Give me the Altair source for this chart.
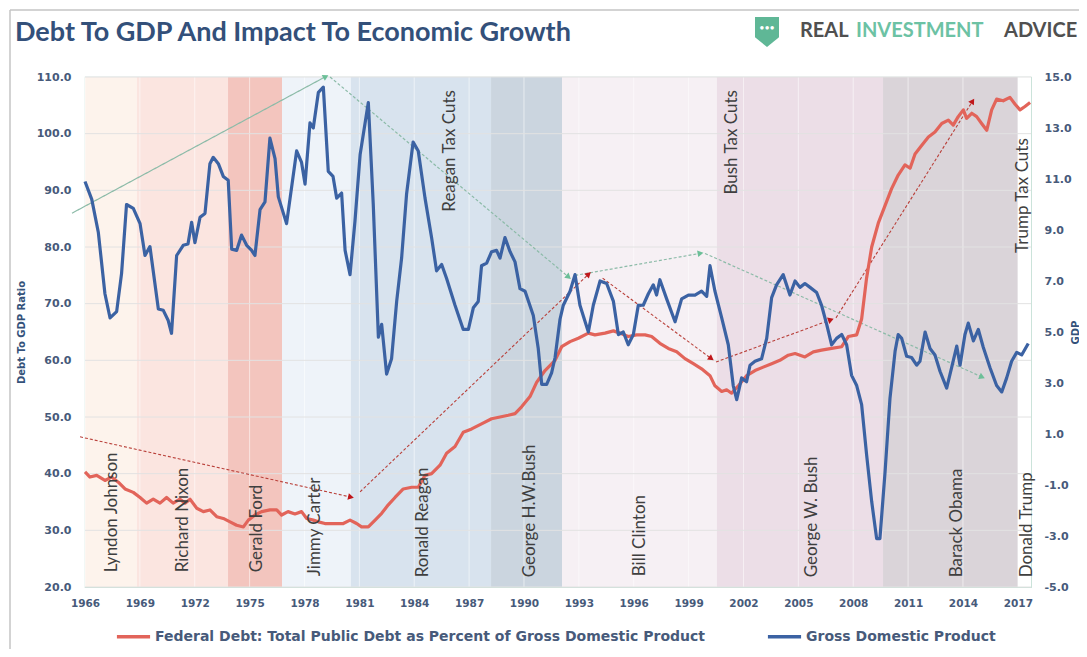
import math
import altair as alt
import pandas as pd

# ---------------- data ----------------
gdp_year = [1966.00, 1966.37, 1966.73, 1967.09, 1967.37, 1967.73, 1968.00, 1968.27, 1968.64, 1969.01,
            1969.28, 1969.55, 1970.01, 1970.28, 1970.55, 1970.73, 1971.01, 1971.37, 1971.63, 1971.83,
            1972.01, 1972.29, 1972.56, 1972.83, 1973.01, 1973.29, 1973.56, 1973.83, 1974.02, 1974.29,
            1974.56, 1974.84, 1975.11, 1975.29, 1975.57, 1975.84, 1976.11, 1976.39, 1976.57, 1977.02,
            1977.57, 1977.84, 1978.03, 1978.30, 1978.48, 1978.76, 1979.03, 1979.30, 1979.56, 1979.76,
            1980.03, 1980.22, 1980.49, 1980.76, 1981.04, 1981.49, 1981.76, 1982.04, 1982.22, 1982.49,
            1982.76, 1983.04, 1983.31, 1983.58, 1983.94, 1984.22, 1984.59, 1984.95, 1985.22, 1985.50,
            1985.77, 1986.23, 1986.68, 1986.96, 1987.23, 1987.50, 1987.68, 1987.96, 1988.23, 1988.50,
            1988.69, 1988.96, 1989.24, 1989.51, 1989.78, 1990.06, 1990.51, 1990.78, 1990.97, 1991.24,
            1991.51, 1991.70, 1991.97, 1992.15, 1992.52, 1992.79, 1993.06, 1993.52, 1993.79, 1994.16,
            1994.52, 1994.89, 1995.16, 1995.43, 1995.70, 1995.98, 1996.25, 1996.52, 1996.80, 1997.07,
            1997.25, 1997.43, 1997.80, 1998.26, 1998.62, 1998.99, 1999.35, 1999.71, 1999.99, 2000.17,
            2000.44, 2000.81, 2001.17, 2001.44, 2001.63, 2001.90, 2002.17, 2002.36, 2002.63, 2002.99,
            2003.27, 2003.54, 2003.81, 2004.17, 2004.54, 2004.82, 2005.09, 2005.36, 2005.64, 2006.00,
            2006.27, 2006.55, 2006.82, 2007.09, 2007.37, 2007.64, 2007.91, 2008.19, 2008.46, 2008.73,
            2009.01, 2009.28, 2009.46, 2009.74, 2010.01, 2010.29, 2010.46, 2010.65, 2010.92, 2011.19,
            2011.47, 2011.65, 2011.93, 2012.20, 2012.47, 2012.75, 2013.11, 2013.38, 2013.66, 2013.84,
            2014.11, 2014.29, 2014.57, 2014.84, 2015.11, 2015.48, 2015.84, 2016.12, 2016.39, 2016.66,
            2016.94, 2017.21, 2017.57]
gdp_value = [10.9, 10.2, 8.9, 6.5, 5.55, 5.8, 7.3, 10.0, 9.85, 9.25,
             8.0, 8.35, 5.9, 5.85, 5.45, 4.95, 8.0, 8.4, 8.45, 9.3,
             8.5, 9.5, 9.65, 11.6, 11.85, 11.6, 11.1, 10.95, 8.25, 8.2,
             8.8, 8.4, 8.2, 8.0, 9.8, 10.1, 12.6, 11.8, 10.3, 9.25,
             12.1, 11.65, 10.8, 13.2, 13.0, 14.4, 14.6, 11.3, 11.1, 10.25,
             10.45, 8.2, 7.25, 9.35, 11.95, 14.0, 10.0, 4.8, 5.3, 3.35,
             3.95, 6.2, 7.9, 10.4, 12.45, 12.1, 10.25, 8.7, 7.4, 7.65,
             7.1, 6.05, 5.1, 5.1, 5.95, 6.2, 7.6, 7.7, 8.15, 8.2,
             7.9, 8.7, 8.15, 7.75, 6.7, 6.6, 5.65, 4.35, 2.95, 2.95,
             3.4, 4.0, 5.5, 6.05, 6.6, 7.25, 6.05, 5.0, 6.05, 7.0,
             6.9, 6.2, 4.9, 5.0, 4.5, 4.9, 6.05, 6.05, 6.5, 6.85,
             6.45, 7.05, 6.3, 5.4, 6.3, 6.45, 6.45, 6.6, 6.4, 7.6,
             6.6, 5.55, 4.5, 2.9, 2.35, 3.2, 3.05, 3.7, 3.85, 3.95,
             4.75, 6.35, 6.85, 7.25, 6.45, 7.0, 6.75, 6.9, 6.75, 6.55,
             6.05, 5.3, 4.5, 4.75, 4.9, 4.5, 3.3, 2.9, 2.15, 0.2,
             -1.65, -3.1, -3.1, -0.5, 2.4, 4.25, 4.9, 4.75, 4.05, 4.0,
             3.7, 3.85, 5.0, 4.35, 4.1, 3.45, 2.8, 3.6, 4.45, 3.7,
             4.9, 5.35, 4.65, 5.1, 4.4, 3.6, 2.9, 2.65, 3.2, 3.85,
             4.2, 4.1, 4.55]

debt_year = [1966.00, 1966.27, 1966.64, 1967.09, 1967.45, 1967.82, 1968.19, 1968.64, 1969.01, 1969.37,
             1969.73, 1970.10, 1970.46, 1970.82, 1971.19, 1971.47, 1971.74, 1972.11, 1972.47, 1972.83,
             1973.20, 1973.56, 1973.93, 1974.29, 1974.66, 1974.93, 1975.29, 1975.66, 1976.11, 1976.48,
             1976.75, 1977.10, 1977.48, 1977.84, 1978.12, 1978.48, 1978.76, 1979.12, 1979.67, 1980.12,
             1980.49, 1980.85, 1981.12, 1981.49, 1981.86, 1982.22, 1982.58, 1982.95, 1983.40, 1983.86,
             1984.22, 1984.59, 1984.95, 1985.41, 1985.77, 1986.23, 1986.68, 1987.14, 1987.68, 1988.23,
             1988.69, 1989.14, 1989.51, 1989.87, 1990.33, 1990.69, 1991.15, 1991.70, 1992.06, 1992.52,
             1992.97, 1993.52, 1993.88, 1994.43, 1994.89, 1995.25, 1995.70, 1996.16, 1996.62, 1996.98,
             1997.43, 1997.89, 1998.35, 1998.80, 1999.26, 1999.71, 2000.17, 2000.44, 2000.81, 2001.08,
             2001.35, 2001.72, 2002.17, 2002.63, 2003.08, 2003.54, 2003.99, 2004.45, 2004.82, 2005.36,
             2005.82, 2006.27, 2006.82, 2007.37, 2007.73, 2008.19, 2008.46, 2008.73, 2009.01, 2009.37,
             2009.74, 2010.10, 2010.46, 2010.83, 2011.11, 2011.38, 2011.74, 2012.11, 2012.47, 2012.84,
             2013.20, 2013.47, 2013.74, 2014.02, 2014.20, 2014.48, 2014.75, 2015.02, 2015.30, 2015.57,
             2015.84, 2016.20, 2016.57, 2016.85, 2017.12, 2017.39, 2017.67]
debt_value = [40.3, 39.4, 39.7, 38.8, 39.4, 38.5, 37.3, 36.7, 35.8, 34.8,
              35.5, 34.8, 35.8, 34.8, 35.5, 34.8, 35.5, 33.9, 33.3, 33.6,
              32.4, 32.1, 31.5, 30.9, 30.6, 31.8, 32.7, 33.3, 33.6, 33.6,
              32.7, 33.3, 32.9, 33.3, 32.1, 31.8, 31.5, 31.2, 31.2, 31.2,
              31.8, 31.2, 30.6, 30.6, 31.8, 33.0, 34.5, 35.8, 37.3, 37.6,
              37.6, 39.7, 40.0, 41.5, 43.6, 44.8, 47.3, 47.9, 48.8, 49.7,
              50.0, 50.3, 50.6, 51.8, 53.6, 56.1, 58.2, 60.0, 62.4, 63.3,
              63.9, 64.8, 64.5, 64.8, 65.2, 64.8, 64.2, 64.5, 64.5, 64.2,
              63.0, 62.1, 61.5, 60.3, 59.4, 58.5, 57.3, 55.5, 54.5, 54.8,
              54.2, 55.5, 57.3, 58.2, 58.8, 59.4, 60.0, 60.9, 61.2, 60.6,
              61.5, 61.8, 62.1, 62.4, 64.2, 64.5, 67.3, 74.5, 80.0, 84.2,
              87.3, 90.3, 92.7, 94.5, 93.9, 96.4, 97.9, 99.4, 100.3, 101.8,
              102.4, 101.5, 103.0, 104.2, 102.7, 103.6, 103.0, 101.8, 100.6, 104.2,
              106.1, 105.8, 106.4, 105.2, 104.2, 104.8, 105.5]

term_names = ["Lyndon Johnson", "Richard Nixon", "Gerald Ford", "Jimmy Carter", "Ronald Reagan",
              "George H.W.Bush", "Bill Clinton", "George W. Bush", "Barack Obama", "Donald Trump"]
term_start = [1966.0, 1968.84, 1973.82, 1976.77, 1980.54, 1988.2, 1992.08, 2000.55, 2009.63, 2017.01]
term_end = [1968.84, 1973.82, 1976.77, 1980.54, 1988.2, 1992.08, 2000.55, 2009.63, 2017.01, 2017.72]
term_color = ["#fdf3ec", "#fbe5e0", "#f3c5be", "#eef3f9", "#d8e3ee",
              "#cbd5df", "#f6f0f4", "#ecdee7", "#dad4d9", "#ffffff"]
name_x = [1967.48, 1971.36, 1975.4, 1978.58, 1984.5, 1990.33, 1996.34, 2005.75, 2013.68, 2017.5]
name_y = [22.6, 22.6, 22.6, 21.9, 21.7, 21.7, 21.9, 21.7, 21.7, 21.7]

cut_names = ["Reagan Tax Cuts", "Bush Tax Cuts", "Trump Tax Cuts"]
cut_x = [1985.96, 2001.4, 2017.3]
cut_y = [107.7, 107.7, 99.2]

# red (debt) trend arrows, left-axis units
red_x0 = [1965.73, 1981.04, 1994.3, 2000.5, 2007.06]
red_y0 = [46.5, 36.8, 74.5, 59.7, 67.5]
red_x1 = [1980.49, 1993.5, 2000.2, 2006.73, 2014.5]
red_y1 = [35.9, 75.1, 60.4, 67.1, 105.6]
# green (GDP) trend arrows, right-axis units
grn_x0 = [1965.29, 1979.4, 1992.8, 1999.9]
grn_y0 = [9.66, 15.0, 7.22, 8.08]
grn_x1 = [1979.12, 1992.4, 1999.6, 2015.0]
grn_y1 = [15.0, 7.18, 8.08, 3.25]
grn_dash = ["solid", "dash", "dash", "dash"]

x_ticks = list(range(1966, 2018, 3))
left_ticks = [20, 30, 40, 50, 60, 70, 80, 90, 100, 110]
right_ticks = [-5, -3, -1, 1, 3, 5, 7, 9, 11, 13, 15]

DEBT_NAME = "Federal Debt: Total Public Debt as Percent of Gross Domestic Product"
GDP_NAME = "Gross Domestic Product"

# ---------------- layout / style ----------------
W, H = 946, 510
XMIN, XMAX = 1966.0, 2017.72
LMIN, LMAX = 20, 110
RMIN, RMAX = -5, 15
FONT = "Lato"
AXFONT = "DejaVu Sans"
RED = "#e2645a"
BLUE = "#3b62a3"
LABEL_C = "#475a7a"

xscale = alt.Scale(domain=[XMIN, XMAX], nice=False, zero=False)
lscale = alt.Scale(domain=[LMIN, LMAX], nice=False, zero=False)
rscale = alt.Scale(domain=[RMIN, RMAX], nice=False, zero=False)
xaxis = alt.Axis(values=x_ticks, format="d", title=None, grid=False, ticks=False, domain=False,
                 labelFont=AXFONT, labelFontSize=10.5, labelFontWeight="bold", labelColor=LABEL_C,
                 labelPadding=11, labelFlush=False)


def X(field):
    return alt.X(field, type="quantitative", scale=xscale, axis=xaxis)


def angle(x0, y0, x1, y1, pyu):
    dx = (x1 - x0) * W / (XMAX - XMIN)
    dy = -(y1 - y0) * pyu
    return (math.degrees(math.atan2(dx, -dy)) + 360) % 360


terms = pd.DataFrame({"name": term_names, "start": term_start, "end": term_end, "color": term_color})
gdp = pd.DataFrame({"year": gdp_year, "value": gdp_value, "series": GDP_NAME})
debt = pd.DataFrame({"year": debt_year, "value": debt_value, "series": DEBT_NAME})
names = pd.DataFrame({"name": term_names, "x": name_x, "y": name_y})
cuts = pd.DataFrame({"name": cut_names, "x": cut_x, "y": cut_y})
red_arr = pd.DataFrame({"x0": red_x0, "y0": red_y0, "x1": red_x1, "y1": red_y1})
red_arr["ang"] = [angle(a, b, c, d, H / (LMAX - LMIN)) for a, b, c, d in zip(red_x0, red_y0, red_x1, red_y1)]
grn_arr = pd.DataFrame({"x0": grn_x0, "y0": grn_y0, "x1": grn_x1, "y1": grn_y1, "dash": grn_dash})
grn_arr["ang"] = [angle(a, b, c, d, H / (RMAX - RMIN)) for a, b, c, d in zip(grn_x0, grn_y0, grn_x1, grn_y1)]
xgrid = pd.DataFrame({"year": x_ticks})
ygrid = pd.DataFrame({"v": left_ticks})

color_scale = alt.Scale(domain=[DEBT_NAME, GDP_NAME], range=[RED, BLUE])
legend = alt.Legend(title=None, orient="none", legendX=30, legendY=541, direction="horizontal",
                    symbolType="stroke", symbolSize=1100, symbolStrokeWidth=3.5,
                    labelFont=AXFONT, labelFontSize=14, labelFontWeight="bold", labelColor=LABEL_C,
                    labelLimit=0, columnPadding=54, labelOffset=3)

shade = alt.Chart(terms).mark_rect().encode(
    x=X("start"), x2="end", color=alt.Color("color:N", scale=None))

vgrid = alt.Chart(xgrid).mark_rule(color="#ffffff", strokeWidth=1, opacity=0.55).encode(x=X("year"))
hgrid = alt.Chart(ygrid).mark_rule(color="#e2e2e2", strokeWidth=1).encode(
    y=alt.Y("v:Q", scale=lscale, axis=None))

debt_line = alt.Chart(debt).mark_line(strokeWidth=3.2, strokeJoin="round").encode(
    x=X("year"),
    y=alt.Y("value:Q", scale=lscale,
            axis=alt.Axis(orient="left", values=left_ticks, format=".1f", title="Debt To GDP Ratio",
                          grid=False, ticks=False, domain=False, labelFont=AXFONT, labelFontSize=11,
                          labelFontWeight="bold", labelColor=LABEL_C, labelPadding=14,
                          titleFont=AXFONT, titleFontSize=10, titleFontWeight="bold", titleColor="#34527a",
                          titleX=-64, titleY=H / 2, titleAngle=270, titleAlign="center",
                          titleBaseline="middle")),
    color=alt.Color("series:N", scale=color_scale, legend=legend))

gdp_line = alt.Chart(gdp).mark_line(strokeWidth=3.2, strokeJoin="round").encode(
    x=X("year"),
    y=alt.Y("value:Q", scale=rscale,
            axis=alt.Axis(orient="right", values=right_ticks, title="GDP",
                          labelExpr="replace(format(datum.value, '.1f'), '\u2212', '-')",
                          grid=False, ticks=False, domain=False, labelFont=AXFONT, labelFontSize=11,
                          labelFontWeight="bold", labelColor=LABEL_C, labelPadding=13,
                          titleFont=AXFONT, titleFontSize=10, titleFontWeight="bold", titleColor="#34527a",
                          titleX=44, titleY=H / 2, titleAngle=270, titleAlign="center",
                          titleBaseline="middle")),
    color=alt.Color("series:N", scale=color_scale, legend=legend))

red_rules = alt.Chart(red_arr).mark_rule(color="#b9403a", strokeWidth=1.1, strokeDash=[3, 2]).encode(
    x=X("x0"), x2="x1", y=alt.Y("y0:Q", scale=lscale, axis=None), y2="y1")
red_heads = alt.Chart(red_arr).mark_point(shape="triangle", filled=True, color="#c0161a", size=45,
                                           opacity=1).encode(
    x=X("x1"), y=alt.Y("y1:Q", scale=lscale, axis=None), angle=alt.Angle("ang:Q", scale=None))

grn_rules = alt.Chart(grn_arr).mark_rule(color="#8cbba8", strokeWidth=1.2).encode(
    x=X("x0"), x2="x1", y=alt.Y("y0:Q", scale=rscale, axis=None), y2="y1",
    strokeDash=alt.StrokeDash("dash:N", scale=alt.Scale(domain=["solid", "dash"], range=[[1, 0], [3, 2]]),
                              legend=None))
grn_heads = alt.Chart(grn_arr).mark_point(shape="triangle", filled=True, color="#6cbf98", size=45,
                                           opacity=1).encode(
    x=X("x1"), y=alt.Y("y1:Q", scale=rscale, axis=None), angle=alt.Angle("ang:Q", scale=None))

name_text = alt.Chart(names).mark_text(angle=270, align="left", baseline="middle", font=FONT,
                                        fontSize=17, color="#3f3f3f").encode(
    x=X("x"), y=alt.Y("y:Q", scale=lscale, axis=None), text="name:N")
cut_text = alt.Chart(cuts).mark_text(angle=270, align="right", baseline="middle", font=FONT,
                                      fontSize=17, color="#3f3f3f").encode(
    x=X("x"), y=alt.Y("y:Q", scale=lscale, axis=None), text="name:N")

one = alt.Data(values=[{"a": 1}])
title = alt.Chart(one).mark_text(align="left", baseline="middle", font=FONT, fontSize=27,
                                 fontWeight="bold", color="#33507a").encode(
    x=alt.value(-70), y=alt.value(-44), text=alt.value("Debt To GDP And Impact To Economic Growth"))
shield = alt.Chart(one).mark_point(shape="M-0.8,-1L0.8,-1L0.8,0.35L0,1L-0.8,0.35Z", filled=True,
                                   color="#5fb796", size=900, opacity=1).encode(
    x=alt.value(682), y=alt.value(-45))
dots = alt.Chart(one).mark_text(font=FONT, fontSize=9, color="#ffffff", baseline="middle").encode(
    x=alt.value(682), y=alt.value(-49), text=alt.value("•••"))
logo_real = alt.Chart(one).mark_text(align="left", baseline="middle", font=FONT, fontSize=20,
                                     fontWeight="bold", color="#505050").encode(
    x=alt.value(715), y=alt.value(-46), text=alt.value("REAL"))
logo_inv = alt.Chart(one).mark_text(align="left", baseline="middle", font=FONT, fontSize=20,
                                    fontWeight="bold", color="#6cc2a4").encode(
    x=alt.value(771), y=alt.value(-46), text=alt.value("INVESTMENT"))
logo_adv = alt.Chart(one).mark_text(align="left", baseline="middle", font=FONT, fontSize=20,
                                    fontWeight="bold", color="#505050").encode(
    x=alt.value(919), y=alt.value(-46), text=alt.value("ADVICE"))
frame_top = alt.Chart(one).mark_rule(color="#c4c4c4", strokeWidth=1.5).encode(
    x=alt.value(-75), x2=alt.value(1010), y=alt.value(-67))
frame_left = alt.Chart(one).mark_rule(color="#c4c4c4", strokeWidth=1.5).encode(
    x=alt.value(-75), y=alt.value(-67), y2=alt.value(600))

chart = alt.layer(
    shade, vgrid, hgrid, red_rules, grn_rules, debt_line, gdp_line, red_heads, grn_heads,
    name_text, cut_text, title, shield, dots, logo_real, logo_inv, logo_adv, frame_top, frame_left
).resolve_scale(y="independent").properties(
    width=W, height=H,
    autosize=alt.AutoSizeParams(type="none"),
    padding={"left": 77, "top": 69, "right": 48, "bottom": 62},
    background="#ffffff",
).configure_view(stroke="#c6e0d6", strokeWidth=1.2)

chart.save("out.html", embed_options={"renderer": "svg", "actions": False})
